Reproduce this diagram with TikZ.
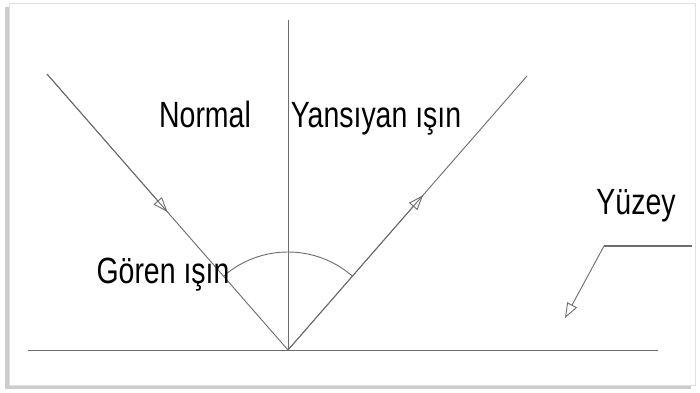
\documentclass[tikz,border=0pt]{standalone}
\usepackage{fontspec}
\setmainfont[FakeStretch=0.78]{Liberation Sans}
\usetikzlibrary{arrows.meta,calc}
\tikzset{
    raylabel/.style={anchor=base, inner sep=0pt, text=black,
        font=\fontsize{36.5}{40}\selectfont},
    rayline/.style={draw=gray!85!black, line width=0.9pt},
    opentip/.style={-{Triangle[open, length=15pt, width=11pt]}}
}

\begin{document}
\begin{tikzpicture}[x=1pt, y=1pt]
\useasboundingbox (0,0) rectangle (700,392);
% frame with shadow
\fill[gray!40] (5,3) rectangle (691,385);
\filldraw[fill=white, draw=gray!25] (9,7) rectangle (695,389);

% points
\coordinate (O) at (288,42);
\coordinate (ntop) at (288,372);
\coordinate (sleft) at (28,42);
\coordinate (sright) at (658,42);
\coordinate (inc) at (47,318);
\coordinate (refl) at (527,316);
\coordinate (lead1) at (692,146);
\coordinate (lead2) at (604,146);
\coordinate (lead3) at (565,74);
\coordinate (arcstart) at ($(O)+(131:98)$);

% surface and normal
\draw[rayline] (sleft) -- (sright);
\draw[rayline] (O) -- (ntop);
% rays
\draw[rayline] (inc) -- (O);
\draw[rayline, opentip] (inc) -- ($(inc)!0.5!(O)$);
\draw[rayline] (O) -- (refl);
\draw[rayline, opentip] (O) -- ($(O)!0.565!(refl)$);
% angle arc
\draw[rayline] (arcstart) arc[start angle=131, end angle=49, radius=98];
% leader to surface
\draw[rayline, line width=1.4pt] (lead1) -- (lead2);
\draw[rayline, opentip] (lead2) -- (lead3);

% labels
\node[raylabel] (normal) at (205,265) {Normal};
\node[raylabel] (yansiyan) at (376,265) {Yansıyan ışın};
\node[raylabel] (yuzey) at (636,178) {Yüzey};
\node[raylabel] (goren) at (163,109) {Gören ışın};
\end{tikzpicture}
\end{document}
